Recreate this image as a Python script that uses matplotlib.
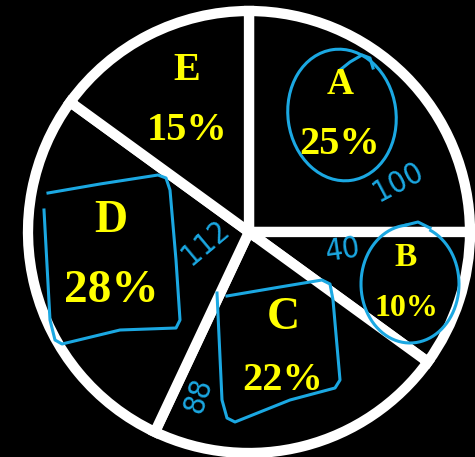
import matplotlib
matplotlib.use("Agg")
import matplotlib.pyplot as plt
import numpy as np
from matplotlib.patches import Ellipse

categories = ["A", "B", "C", "D", "E"]
shares = [25, 10, 22, 28, 15]
notes = ["100", "40", "88", "112"]

W, H = 475, 457
fig = plt.figure(figsize=(W / 100, H / 100), dpi=100, facecolor="black")
ax = fig.add_axes([0, 0, 1, 1], facecolor="black")

CX, CY, R = 249, 232, 221
ax.pie(shares, startangle=90, counterclock=False, colors=["black"] * 5,
       center=(CX, H - CY), radius=R,
       wedgeprops=dict(edgecolor="white", linewidth=7.4))
ax.set_xlim(0, W)
ax.set_ylim(0, H)
ax.set_aspect("equal")
ax.axis("off")

# overlay axes in pixel coordinates (y down) for labels and annotations
ov = fig.add_axes([0, 0, 1, 1], facecolor="none")
ov.set_xlim(0, W)
ov.set_ylim(H, 0)
ov.axis("off")

# label layout: (letter x, letter y, letter size, pct y, pct size)
layout = {
    "A": (340, 84, 27, 144, 29),
    "B": (406, 258, 24, 308, 23),
    "C": (283, 318, 33, 381, 29),
    "D": (111, 221, 33, 291, 34),
    "E": (187, 71, 29, 131, 29),
}
for cat, val in zip(categories, shares):
    x, ly, ls, py, ps = layout[cat]
    ov.text(x, ly, cat, color="#FFFF00", fontsize=ls, fontweight="bold",
            family="Liberation Serif", ha="center", va="center")
    ov.text(x, py, f"{val}%", color="#FFFF00", fontsize=ps, fontweight="bold",
            family="Liberation Serif", ha="center", va="center")

BLUE = "#1BA8E2"
LW = 2.2
# circle around A
ov.add_patch(Ellipse((342, 115), 108, 132, angle=-8, fill=False, ec=BLUE, lw=LW))
ov.plot([340, 350, 362, 370, 373], [70, 62, 55, 58, 68], color=BLUE, lw=LW)
# circle around B (open at the top right)
t = np.deg2rad(np.linspace(95, 425, 240))
ov.plot(410 + 49 * np.cos(t), 284 - 59 * np.sin(t), color=BLUE, lw=LW)
ov.plot([406, 418, 430], [225, 222, 228], color=BLUE, lw=LW)
# box around D
ov.plot([48, 100, 158, 166, 170, 176, 180, 176, 120, 62, 55, 50, 44],
        [193, 184, 175, 178, 190, 260, 320, 328, 330, 344, 340, 320, 210],
        color=BLUE, lw=LW)
# box around C
ov.plot([227, 280, 322, 330, 333, 340, 335, 290, 235, 227, 222, 217],
        [296, 287, 280, 284, 300, 380, 388, 400, 422, 418, 400, 293],
        color=BLUE, lw=LW)

# handwritten numbers
hw = dict(color=BLUE, fontsize=22, family="DejaVu Sans", fontweight="light",
          ha="center", va="center", fontstretch="condensed")
ov.text(398, 182, notes[0], rotation=28, **hw)
ov.text(343, 250, notes[1], rotation=8, **hw)
ov.text(198, 396, notes[2], rotation=72, **hw)
ov.text(206, 243, notes[3], rotation=40, **hw)

fig.savefig("out.png", dpi=100, facecolor="black")
